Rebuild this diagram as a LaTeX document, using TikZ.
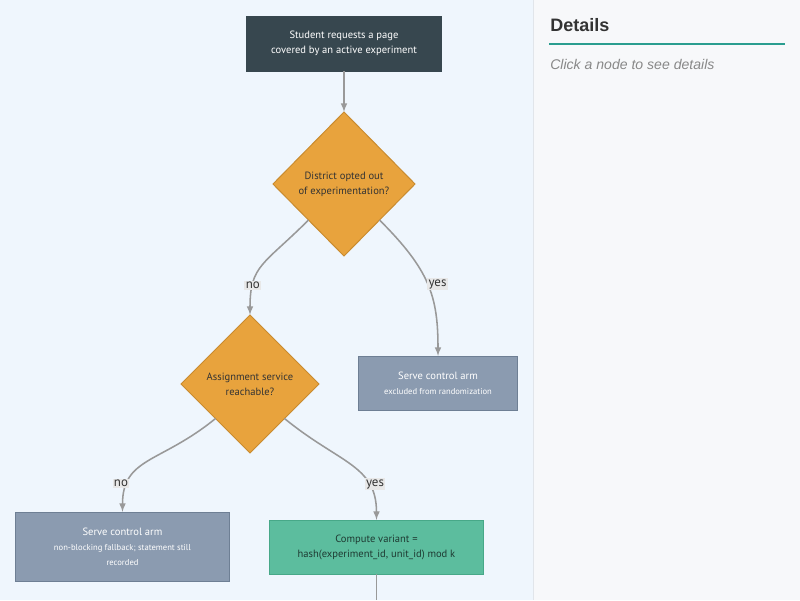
\documentclass[tikz,border=0pt]{standalone}
\usepackage{fontspec}
\setmainfont{PT Sans}
\newfontfamily\panelfont{Liberation Sans}
\usepackage{tikz}
\usetikzlibrary{shapes.geometric}
\usetikzlibrary{arrows}

\definecolor{canvas}{HTML}{EFF6FD}
\definecolor{panel}{HTML}{F7F8FA}
\definecolor{panelrule}{HTML}{E1E5EA}
\definecolor{accent}{HTML}{2A9D8F}
\definecolor{headtext}{HTML}{333333}
\definecolor{hinttext}{HTML}{888888}
\definecolor{startfill}{HTML}{37474F}
\definecolor{diafill}{HTML}{E8A33D}
\definecolor{diadraw}{HTML}{C98B2F}
\definecolor{armfill}{HTML}{8B9BB0}
\definecolor{armdraw}{HTML}{6E7F94}
\definecolor{varfill}{HTML}{5CBD9E}
\definecolor{vardraw}{HTML}{47A888}
\definecolor{vartext}{HTML}{1E3A32}
\definecolor{edgegray}{HTML}{999999}
\definecolor{lblfill}{HTML}{E8E8E8}

\newcommand{\armnote}{\fontsize{6.1}{10.6}\selectfont}

\tikzset{
  nodetext/.style={align=center, inner sep=0cm, outer sep=0cm,
                   font=\fontsize{7.5}{10.6}\selectfont},
  startbox/.style={nodetext, draw=startfill, fill=startfill, text=white,
                   line width=0.7pt, minimum width=4.85cm, minimum height=1.375cm},
  decision/.style={nodetext, shape=diamond, aspect=1, draw=diadraw, fill=diafill,
                   text=headtext, line width=0.7pt},
  armbox/.style={nodetext, draw=armdraw, fill=armfill, text=white,
                 line width=0.7pt, minimum width=3.95cm, minimum height=1.35cm},
  variantbox/.style={nodetext, draw=vardraw, fill=varfill, text=vartext,
                     line width=0.7pt, minimum width=5.325cm, minimum height=1.35cm},
  flow/.style={draw=edgegray, line width=1.1pt, -latex},
  lbl/.style={fill=lblfill, text=headtext, inner sep=1pt,
              font=\fontsize{9.2}{11}\selectfont}
}

\begin{document}
\begin{tikzpicture}[x=0.025cm, y=-0.025cm]

\useasboundingbox (0, 0) rectangle (800, 600);
\fill[canvas] (0, 0) rectangle (533, 600);
\fill[panel] (533, 0) rectangle (800, 600);
\draw[panelrule, line width=0.7pt] (533, 0) -- (533, 600);

\draw (550, 25) node[anchor=west, inner sep=0cm, text=headtext,
  font=\panelfont\bfseries\fontsize{12.8}{15}\selectfont] (dtitle) {Details};
\draw[accent, line width=1.4pt] (549, 44) -- (785, 44);
\draw (550, 64) node[anchor=west, inner sep=0cm, text=hinttext,
  font=\panelfont\itshape\fontsize{10}{12}\selectfont] (dhint) {Click a node to see details};

\draw (344, 43.5) node[startbox] (ask) {Student requests a page\\covered by an active experiment};
\draw (344, 184) node[decision, minimum width=3.55cm, minimum height=3.6cm] (optout) {District opted out\\of experimentation?};
\draw (250, 384) node[decision, minimum width=3.45cm, minimum height=3.45cm] (reach) {Assignment service\\reachable?};
\draw (438, 383) node[armbox] (excluded) {Serve control arm\\{\armnote excluded from randomization}};
\draw (122.5, 546.5) node[armbox, minimum width=5.325cm, minimum height=1.725cm] (fallback) {Serve control arm\\{\armnote non-blocking fallback; statement still}\\{\armnote recorded}};
\draw (376.5, 547) node[variantbox] (variant) {Compute variant =\\hash(experiment\_id, unit\_id) mod k};
\coordinate (offpage) at (376.5, 600);

\draw[flow] (ask) -- (optout);
\draw[flow] (optout.south west) .. controls +(-45, 45) and +(0, -50) .. (reach.north) node[lbl, pos=0.75] {no};
\draw[flow] (optout.south east) .. controls +(50, 50) and +(0, -60) .. (excluded.north) node[lbl, pos=0.5, xshift=0.25cm] {yes};
\draw[flow] (reach.south west) .. controls +(-55, 45) and +(0, -55) .. (fallback.north) node[lbl, pos=0.78, xshift=-0.17cm] {no};
\draw[flow] (reach.south east) .. controls +(55, 45) and +(0, -55) .. (variant.north) node[lbl, pos=0.72, xshift=0.17cm] {yes};
\draw[flow, -] (variant) -- (offpage);

\end{tikzpicture}
\end{document}
